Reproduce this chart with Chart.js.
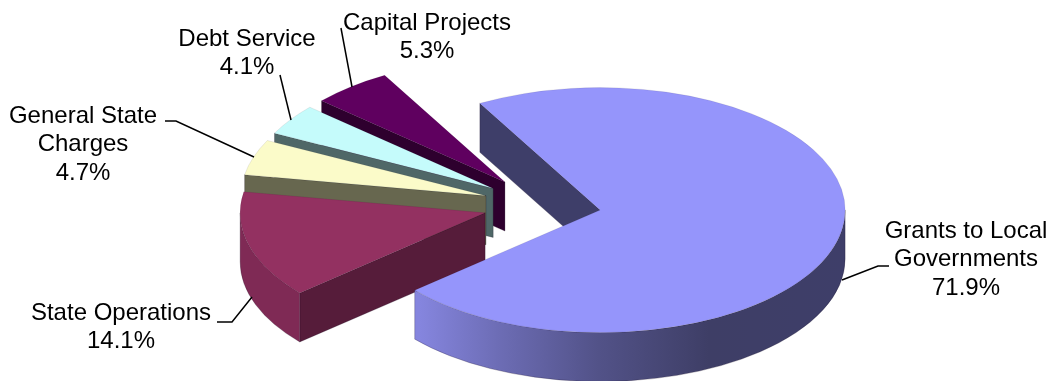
<!DOCTYPE html>
<html>
<head>
<meta charset="utf-8">
<style>
  html, body { margin: 0; padding: 0; background: #fff; }
  canvas { display: block; }
</style>
<script src="https://cdn.jsdelivr.net/npm/chart.js@4/dist/chart.umd.min.js"></script>
</head>
<body>
<canvas id="budget" width="1052" height="381"></canvas>
<script>
// Spending shares, listed clockwise from the largest slice
const categories = ['Grants to Local Governments', 'State Operations', 'General State Charges', 'Debt Service', 'Capital Projects'];
const shares = [71.9, 14.1, 4.7, 4.1, 5.3];

const topColors = ['#9595FB', '#933161', '#FBFBC9', '#C5FBFB', '#5F005F'];
const edgeColors = ['#3E3E69', '#561C3A', '#67674F', '#4F6767', '#2E002E'];
const rimColors = ['#3E3E69', '#7F2A55', '#8A8A6C', '#6A8A8A', '#420042'];

// Label text lines and where each block sits
const labelLines = [
  ['Grants to Local', 'Governments', '71.9%'],
  ['State Operations', '14.1%'],
  ['General State', 'Charges', '4.7%'],
  ['Debt Service', '4.1%'],
  ['Capital Projects', '5.3%']
];
const labelCentres = [[966, 231], [121, 313], [83, 116], [247, 39], [427, 23]];
const leaderLines = [
  [[889, 266], [878, 266], [842, 280]],
  [[217, 322], [232, 322], [252, 297]],
  [[165, 121], [176, 121], [254, 157]],
  [[280, 75], [291, 120]],
  [[341, 28], [352, 87]]
];

// Projection of the flat pie onto the tilted disc
const pieCentre = { x: 542, y: 205 };
const tilt = 0.5;
const depth = 49;
const explode = 59;
const radius = 245;
const startAngle = -29.4;
const paintOrder = [4, 3, 2, 1, 0];

// Where a slice's apex lands on the page once it is pulled out of the disc
function apex(arc) {
  const mid = (arc.startAngle + arc.endAngle) / 2;
  return {
    x: pieCentre.x + Math.cos(mid) * explode,
    y: pieCentre.y + Math.sin(mid) * explode * tilt
  };
}

function wall(ctx, arc, i) {
  const { startAngle: a0, endAngle: a1, outerRadius: r } = arc;
  const { x: sx, y: sy } = apex(arc);

  ctx.save();
  ctx.lineWidth = 0.6;
  ctx.strokeStyle = 'rgba(20,10,30,0.4)';

  // Flat cut face along the leading edge, the one turned toward the viewer
  ctx.beginPath();
  ctx.moveTo(sx, sy);
  ctx.lineTo(sx + Math.cos(a0) * r, sy + Math.sin(a0) * r * tilt);
  ctx.lineTo(sx + Math.cos(a0) * r, sy + Math.sin(a0) * r * tilt + depth);
  ctx.lineTo(sx, sy + depth);
  ctx.closePath();
  ctx.fillStyle = edgeColors[i];
  ctx.fill();
  ctx.stroke();

  // Curved rim: only the part on the near half of the disc shows
  const twoPi = Math.PI * 2;
  let from = a0, to = a1;
  while (from < 0) { from += twoPi; to += twoPi; }
  [[from, to], [from - twoPi, to - twoPi]].forEach(([p, q]) => {
    const lo = Math.max(p, 0), hi = Math.min(q, Math.PI);
    if (hi <= lo) return;
    ctx.beginPath();
    ctx.ellipse(sx, sy, r, r * tilt, 0, lo, hi);
    ctx.ellipse(sx, sy + depth, r, r * tilt, 0, hi, lo, true);
    ctx.closePath();
    if (i === 0) {
      const g = ctx.createLinearGradient(420, 0, 845, 0);
      g.addColorStop(0, '#8585DE');
      g.addColorStop(0.19, '#6C6CB4');
      g.addColorStop(0.42, '#525288');
      g.addColorStop(0.68, '#3E3E66');
      g.addColorStop(1, '#3E3E69');
      ctx.fillStyle = g;
    } else {
      ctx.fillStyle = rimColors[i];
    }
    ctx.fill();
    ctx.stroke();
  });
  ctx.restore();
}

const tiltedPie = {
  id: 'tiltedPie',
  beforeDatasetDraw(chart, args) {
    const { ctx } = chart;
    const arcs = args.meta.data;
    paintOrder.forEach(i => {
      const arc = arcs[i];
      const p = apex(arc);
      wall(ctx, arc, i);
      ctx.save();
      ctx.translate(p.x, p.y);
      ctx.scale(1, tilt);
      ctx.translate(-arc.x, -arc.y);
      arc.draw(ctx);
      ctx.restore();
    });
    return false;
  },
  afterDraw(chart) {
    const { ctx } = chart;
    ctx.save();
    ctx.strokeStyle = '#000';
    ctx.lineWidth = 1.5;
    leaderLines.forEach(points => {
      ctx.beginPath();
      points.forEach(([x, y], k) => (k ? ctx.lineTo(x, y) : ctx.moveTo(x, y)));
      ctx.stroke();
    });
    ctx.fillStyle = '#000';
    ctx.font = '24px "Liberation Sans", Arial, sans-serif';
    ctx.textAlign = 'center';
    ctx.textBaseline = 'middle';
    labelLines.forEach((lines, i) => {
      lines.forEach((line, k) => {
        ctx.fillText(line, labelCentres[i][0], labelCentres[i][1] + k * 28.5);
      });
    });
    ctx.restore();
  }
};

new Chart(document.getElementById('budget'), {
  type: 'pie',
  data: {
    labels: categories,
    datasets: [{
      data: shares,
      backgroundColor: topColors,
      borderWidth: 0.5,
      borderColor: 'rgba(20,10,30,0.22)',
      clip: false
    }]
  },
  options: {
    responsive: false,
    animation: false,
    radius: radius,
    rotation: startAngle,
    layout: { padding: 0 },
    plugins: { legend: { display: false }, tooltip: { enabled: false } }
  },
  plugins: [tiltedPie]
});
</script>
</body>
</html>
